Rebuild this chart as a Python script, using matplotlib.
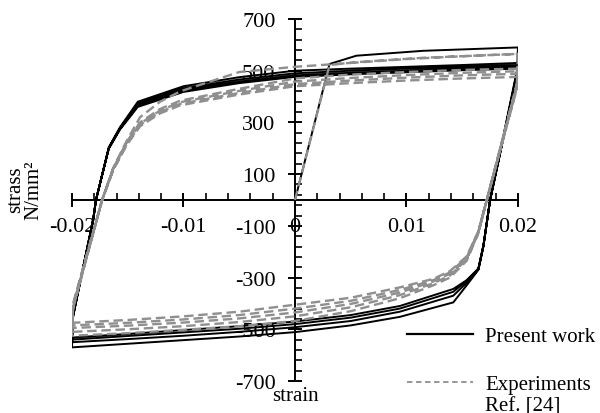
import numpy as np
import matplotlib
matplotlib.use("Agg")
import matplotlib.pyplot as plt
from matplotlib.lines import Line2D

plt.rcParams['font.family'] = ['Liberation Serif', 'DejaVu Serif']

# strain grids for each branch type
pw_init_x = [0.0, 0.0031, 0.0055, 0.0115, 0.02]
pw_init_y = [0, 526, 558, 577, 590]
pw_desc_x = [0.02, 0.0199, 0.0175, 0.0169, 0.01645, 0.0154, 0.0142, 0.0094, 0.005, 0.0, -0.005, -0.01, -0.015, -0.02]
pw_asc_x = [-0.02, -0.0199, -0.0181, -0.01785, -0.0167, -0.0157, -0.0141, -0.010, -0.005, 0.0, 0.005, 0.01, 0.015, 0.02]

# present work, stress N/mm2 per cycle
pw_desc_1 = [590, 500, 0, -180, -270, -330, -396, -452, -485, -511, -528, -542, -556, -570]
pw_asc_1 = [-570, -450, -73, 0, 204, 281, 380, 440, 475, 500, 508, 515, 522, 530]
pw_desc_2 = [530, 490, 0, -178, -268, -320, -370, -432, -468, -492, -510, -525, -538, -550]
pw_asc_2 = [-550, -450, -75, 0, 202, 278, 372, 432, 466, 490, 500, 508, 515, 522]
pw_desc_3 = [522, 485, 0, -176, -266, -312, -355, -420, -455, -480, -498, -512, -526, -540]
pw_asc_3 = [-540, -445, -78, 0, 200, 275, 366, 425, 458, 482, 492, 500, 508, 515]
pw_desc_4 = [515, 480, 0, -175, -265, -310, -344, -410, -445, -470, -488, -503, -518, -532]
pw_asc_4 = [-532, -440, -80, 0, 198, 272, 360, 418, 452, 476, 486, 494, 502, 508]

# experiments (Ref. [24])
ex_init_x = [0.0, 0.0031, 0.0055, 0.0115, 0.02]
ex_init_y = [0, 522, 533, 550, 565]
ex_desc_x = [0.02, 0.0199, 0.0172, 0.01645, 0.0154, 0.0139, 0.0124, 0.0094, 0.005, 0.0, -0.005, -0.01, -0.015, -0.02]
ex_asc_x = [-0.02, -0.0199, -0.0173, -0.0163, -0.0151, -0.0139, -0.0121, -0.0103, -0.005, 0.0, 0.005, 0.01, 0.015, 0.02]

ex_desc_1 = [565, 450, 0, -128, -235, -300, -330, -380, -430, -468, -488, -502, -515, -525]
ex_asc_1 = [-525, -420, 0, 125, 228, 320, 380, 420, 495, 515, 530, 545, 556, 565]
ex_desc_2 = [565, 445, 0, -126, -230, -292, -322, -368, -415, -450, -472, -488, -500, -510]
ex_asc_2 = [-510, -415, 0, 122, 224, 300, 352, 384, 430, 470, 485, 495, 503, 508]
ex_desc_3 = [508, 440, 0, -124, -226, -285, -315, -358, -402, -435, -458, -474, -486, -495]
ex_asc_3 = [-495, -410, 0, 120, 220, 295, 346, 378, 422, 458, 472, 483, 492, 498]
ex_desc_4 = [498, 435, 0, -122, -222, -280, -310, -348, -390, -420, -445, -462, -475, -485]
ex_asc_4 = [-485, -405, 0, 118, 216, 290, 340, 372, 414, 448, 462, 473, 482, 488]
ex_desc_5 = [488, 430, 0, -120, -218, -275, -305, -338, -378, -405, -432, -450, -464, -475]
ex_asc_5 = [-475, -400, 0, 116, 212, 285, 335, 366, 408, 440, 452, 462, 470, 476]

x_ticks = [-0.02, -0.01, 0, 0.01, 0.02]
x_ticklabels = ['-0.02', '-0.01', '0', '0.01', '0.02']
y_ticks = [700, 500, 300, 100, -100, -300, -500, -700]

# chain the branches into one path per series
pw_x = np.concatenate([pw_init_x] + [pw_desc_x, pw_asc_x] * 4)
pw_y = np.concatenate([pw_init_y, pw_desc_1, pw_asc_1, pw_desc_2, pw_asc_2,
                       pw_desc_3, pw_asc_3, pw_desc_4, pw_asc_4])
ex_x = np.concatenate([ex_init_x] + [ex_desc_x, ex_asc_x] * 5)
ex_y = np.concatenate([ex_init_y, ex_desc_1, ex_asc_1, ex_desc_2, ex_asc_2, ex_desc_3,
                       ex_asc_3, ex_desc_4, ex_asc_4, ex_desc_5, ex_asc_5])

fig = plt.figure(figsize=(6, 4.14), dpi=100)
ax = fig.add_axes([0.12, 0.0773, 0.7433, 0.8744])

ax.plot(pw_x, pw_y, color='black', lw=1.4, zorder=3)
ax.plot(ex_x, ex_y, color='#8f8f8f', lw=1.7, dashes=(4, 2), zorder=4)

ax.set_xlim(-0.02, 0.02)
ax.set_ylim(-700, 700)

for s in ['top', 'right']:
    ax.spines[s].set_visible(False)
ax.spines['left'].set_position('zero')
ax.spines['bottom'].set_position('zero')
ax.spines['left'].set_linewidth(1.4)
ax.spines['bottom'].set_linewidth(1.4)

ax.set_xticks(x_ticks)
ax.set_xticklabels(x_ticklabels)
ax.set_xticks(np.arange(-0.02, 0.0201, 0.002), minor=True)
ax.set_yticks(y_ticks)
ax.set_yticklabels([str(v) for v in y_ticks])
ax.set_yticks(np.arange(-700, 701, 40), minor=True)

ax.tick_params(axis='both', which='major', direction='inout', length=10, width=1.4,
               labelsize=16)
ax.tick_params(axis='both', which='minor', direction='in', length=5, width=1.2)
ax.tick_params(axis='x', which='major', pad=7)
ax.tick_params(axis='y', which='major', pad=9)

ax.set_xlabel('strain', fontsize=15)
ax.xaxis.set_label_coords(0.5, -0.015)
ax.set_ylabel('strass\nN/mm²', fontsize=15, linespacing=0.9)
ax.yaxis.set_label_coords(-0.065, 0.53)

handles = [Line2D([], [], color='black', lw=1.6),
           Line2D([], [], color='#8f8f8f', lw=1.3, dashes=(3, 2))]
ax.legend(handles, ['Present work', 'Experiments'], loc='upper left',
          bbox_to_anchor=(0.678, 0.208), bbox_transform=fig.transFigure,
          frameon=False, fontsize=15, handlelength=3.2, handletextpad=0.55,
          labelspacing=1.35, borderpad=0, borderaxespad=0)
fig.text(485 / 600, 1 - 407.5 / 414, 'Ref. [24]', fontsize=15, va='center', ha='left')

fig.savefig('out.png', dpi=100)
